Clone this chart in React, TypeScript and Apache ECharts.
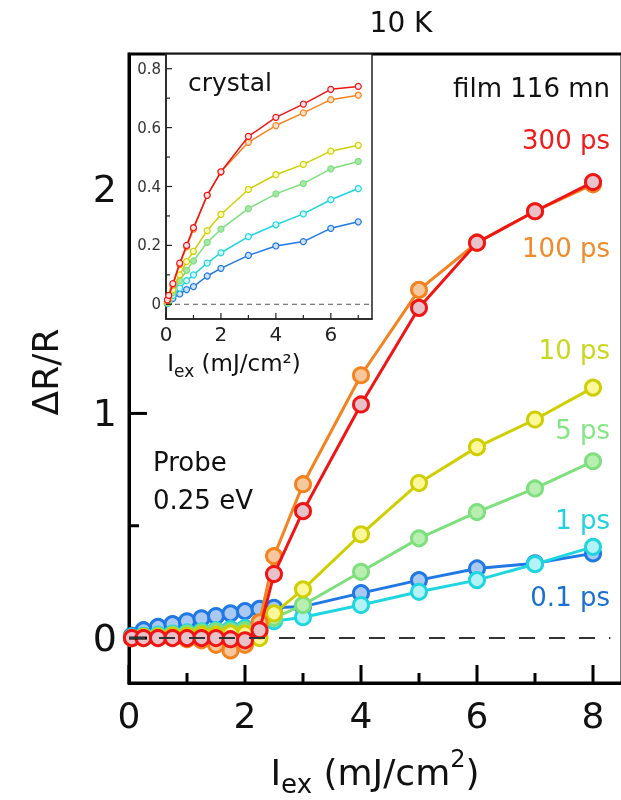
import React, { useEffect, useRef } from "react";
import * as echarts from "echarts";

// ---------- main panel (film 116 nm) ----------
const mainX = [0.05, 0.25, 0.5, 0.75, 1, 1.25, 1.5, 1.75, 2, 2.25, 2.5, 3, 4, 5, 6, 7, 8];
const main01ps = [0.01, 0.035, 0.05, 0.062, 0.075, 0.088, 0.098, 0.11, 0.12, 0.13, 0.135, 0.14, 0.2, 0.258, 0.31, 0.333, 0.377];
const main1ps = [0.005, 0.01, 0.015, 0.02, 0.025, 0.03, 0.035, 0.04, 0.045, 0.05, 0.075, 0.093, 0.147, 0.206, 0.258, 0.329, 0.406];
const main5ps = [0, 0.005, 0.01, 0.015, 0.02, 0.025, 0.03, 0.03, 0.035, 0.03, 0.09, 0.147, 0.295, 0.444, 0.561, 0.666, 0.787];
const main10ps = [0, 0.005, 0.005, 0.01, 0.01, 0.015, 0.015, 0.02, 0.02, 0.0, 0.11, 0.217, 0.462, 0.69, 0.85, 0.973, 1.115];
const main100ps = [0, 0, 0, 0, -0.005, -0.01, -0.03, -0.055, -0.03, 0.07, 0.365, 0.685, 1.17, 1.55, 1.76, 1.9, 2.02];
const main300ps = [0, 0, 0, 0, 0, 0, 0, -0.005, -0.01, 0.035, 0.285, 0.565, 1.04, 1.47, 1.76, 1.9, 2.03];

// ---------- inset (crystal) ----------
const insetX = [0.05, 0.1, 0.25, 0.5, 0.75, 1, 1.5, 2, 3, 4, 5, 6, 7];
const inset01ps = [0.002, 0.007, 0.02, 0.035, 0.05, 0.06, 0.096, 0.122, 0.166, 0.198, 0.213, 0.258, 0.28];
const inset1ps = [0.004, 0.01, 0.03, 0.055, 0.08, 0.1, 0.14, 0.175, 0.23, 0.27, 0.307, 0.355, 0.393];
const inset5ps = [0.005, 0.015, 0.04, 0.08, 0.115, 0.147, 0.21, 0.255, 0.325, 0.375, 0.41, 0.46, 0.485];
const inset10ps = [0.008, 0.02, 0.05, 0.1, 0.145, 0.18, 0.25, 0.305, 0.39, 0.44, 0.475, 0.52, 0.54];
const inset100ps = [0.01, 0.025, 0.065, 0.135, 0.195, 0.255, 0.37, 0.45, 0.55, 0.607, 0.65, 0.695, 0.71];
const inset300ps = [0.015, 0.03, 0.07, 0.14, 0.2, 0.26, 0.37, 0.45, 0.57, 0.635, 0.68, 0.73, 0.74];

// ---------- axes & ticks ----------
const mainXRange = [0, 8.5];
const mainYRange = [-0.2, 2.6];
const insetXRange = [0, 7.5];
const insetYRange = [-0.05, 0.85];
const mainXTicks = [0, 2, 4, 6, 8];
const mainXMinor = [1, 3, 5, 7];
const mainYLabels = [0, 1, 2];
const mainYTickMarks = [0, 1]; // upper ticks are hidden behind the inset
const mainYMinorMarks = [0.5];
const insetXTicks = [0, 2, 4, 6];
const insetXMinor = [1, 3, 5, 7];
const insetYTicks = [0, 0.2, 0.4, 0.6, 0.8];
const insetYMinor = [0.1, 0.3, 0.5, 0.7];
const zeroLineMain = [0, 8.3];
const zeroLineInset = [0, 7.4];

const delayLabels = ["0.1 ps", "1 ps", "5 ps", "10 ps", "100 ps", "300 ps"];

const FONT = '"DejaVu Sans", sans-serif';

const lineColors = ["#1f78e4", "#1fd6e0", "#7ddf7d", "#cfcf00", "#f4821e", "#f01414"];
const fillColors = ["#a9c9f2", "#b4f3f5", "#b8eeb0", "#fbf79a", "#f6c79c", "#e8c2c9"];
const labelColors = ["#1a6fd2", "#22d2dc", "#84e684", "#c9d81e", "#f08a2a", "#ee1c1c"];
const insetFill = ["#cfe0f8", "#d4f8f8", "#a6e6a6", "#fdfbc4", "#fbe0c8", "#fbe0e4"];

const evenOnly = (v: number) => (Math.abs(v % 2) < 1e-9 ? String(v) : "");

// tick marks drawn with a custom series, positioned through the axis scales
const xTicks = (vals: number[], xi: number, yi: number, base: number, len: number, w: number, color: string) => ({
  type: "custom",
  xAxisIndex: xi,
  yAxisIndex: yi,
  silent: true,
  z: 10,
  data: vals.map((v) => [v, base]),
  renderItem: (_p: any, api: any) => {
    const p = api.coord([api.value(0), api.value(1)]);
    return { type: "rect", shape: { x: p[0] - w / 2, y: p[1] - len, width: w, height: len }, style: { fill: color } };
  },
});
const yTicks = (vals: number[], xi: number, yi: number, base: number, len: number, w: number, color: string) => ({
  type: "custom",
  xAxisIndex: xi,
  yAxisIndex: yi,
  silent: true,
  z: 10,
  data: vals.map((v) => [base, v]),
  renderItem: (_p: any, api: any) => {
    const p = api.coord([api.value(0), api.value(1)]);
    return { type: "rect", shape: { x: p[0], y: p[1] - w / 2, width: len, height: w }, style: { fill: color } };
  },
});

export default function App() {
  const ref = useRef<HTMLDivElement>(null);
  useEffect(() => {
    if (!ref.current) return;
    const chart = echarts.init(ref.current, undefined, { renderer: "svg" });

    const mainData = [main01ps, main1ps, main5ps, main10ps, main100ps, main300ps];
    const insetData = [inset01ps, inset1ps, inset5ps, inset10ps, inset100ps, inset300ps];

    const mainSeries = mainData.map((vals, k) => ({
      name: delayLabels[k],
      type: "line",
      xAxisIndex: 0,
      yAxisIndex: 0,
      data: mainX.map((x, i) => [x, vals[i]]),
      symbol: "circle",
      symbolSize: 15,
      lineStyle: { color: lineColors[k], width: 3 },
      itemStyle: { color: fillColors[k], borderColor: lineColors[k], borderWidth: 3 },
      z: 3 + k,
    }));

    const insetSeries = insetData.map((vals, k) => ({
      name: "crystal " + delayLabels[k],
      type: "line",
      xAxisIndex: 1,
      yAxisIndex: 1,
      data: insetX.map((x, i) => [x, vals[i]]),
      symbol: "circle",
      symbolSize: 6,
      lineStyle: { color: lineColors[k], width: 1.5 },
      itemStyle: { color: insetFill[k], borderColor: lineColors[k], borderWidth: 1.2 },
      z: 3 + k,
    }));

    const option = {
      animation: false,
      grid: [
        { left: 129, top: 54, width: 493, height: 629, show: true, borderColor: "#000", borderWidth: 3, outerBoundsMode: "none" },
        { left: 166, top: 54, width: 206, height: 265, show: true, borderColor: "#222", borderWidth: 1.5, backgroundColor: "#ffffff", outerBoundsMode: "none" },
      ],
      xAxis: [
        {
          type: "value", gridIndex: 0, position: "bottom", min: mainXRange[0], max: mainXRange[1], interval: 2,
          splitLine: { show: false },
          axisLine: { show: true, onZero: false, lineStyle: { color: "#000", width: 3 } },
          axisTick: { show: false },
          axisLabel: { formatter: evenOnly, fontSize: 36, fontFamily: FONT, color: "#111", margin: 14, showMaxLabel: false },
        },
        {
          type: "value", gridIndex: 1, position: "bottom", min: insetXRange[0], max: insetXRange[1], interval: 2,
          splitLine: { show: false },
          axisLine: { show: true, onZero: false, lineStyle: { color: "#222", width: 1.5 } },
          axisTick: { show: false },
          axisLabel: { formatter: evenOnly, fontSize: 20, fontFamily: FONT, color: "#222", margin: 5, showMaxLabel: false },
        },
      ],
      yAxis: [
        {
          type: "value", gridIndex: 0, position: "left", min: mainYRange[0], max: mainYRange[1],
          splitLine: { show: false },
          axisLine: { show: true, onZero: false, lineStyle: { color: "#000", width: 3 } },
          axisTick: { show: false },
          axisLabel: { customValues: mainYLabels, fontSize: 38, fontFamily: FONT, color: "#111", margin: 12 },
        },
        {
          type: "value", gridIndex: 1, position: "left", min: insetYRange[0], max: insetYRange[1],
          splitLine: { show: false },
          axisLine: { show: true, onZero: false, lineStyle: { color: "#222", width: 1.5 } },
          axisTick: { show: false },
          axisLabel: { customValues: insetYTicks, fontSize: 15, fontFamily: FONT, color: "#333", margin: 5 },
        },
      ],
      series: [
        ...mainSeries,
        {
          name: "zero",
          type: "line",
          xAxisIndex: 0,
          yAxisIndex: 0,
          data: zeroLineMain.map((x) => [x, 0]),
          symbol: "none",
          lineStyle: { color: "#333", width: 2, type: [16, 14] },
          z: 10,
        },
        xTicks(mainXTicks, 0, 0, mainYRange[0], 18, 3, "#000"),
        xTicks(mainXMinor, 0, 0, mainYRange[0], 10, 3, "#000"),
        yTicks(mainYTickMarks, 0, 0, mainXRange[0], 18, 3, "#000"),
        yTicks(mainYMinorMarks, 0, 0, mainXRange[0], 10, 3, "#000"),
        {
          name: "zero inset",
          type: "line",
          xAxisIndex: 1,
          yAxisIndex: 1,
          data: zeroLineInset.map((x) => [x, 0]),
          symbol: "none",
          lineStyle: { color: "#555", width: 1, type: [5, 4] },
          z: 2,
        },
        ...insetSeries,
        xTicks(insetXTicks, 1, 1, insetYRange[0], 6, 1.2, "#222"),
        xTicks(insetXMinor, 1, 1, insetYRange[0], 4, 1.2, "#222"),
        yTicks(insetYTicks, 1, 1, insetXRange[0], 6, 1.2, "#222"),
        yTicks(insetYMinor, 1, 1, insetXRange[0], 4, 1.2, "#222"),
      ],
      graphic: [
        { type: "text", x: 401, y: 22, style: { text: "10 K", fill: "#111", fontSize: 28, fontFamily: FONT, align: "center", verticalAlign: "middle" } },
        { type: "text", x: 610, y: 88, style: { text: "film 116 mn", fill: "#111", fontSize: 26, fontFamily: FONT, align: "right", verticalAlign: "middle" } },
        { type: "text", x: 610, y: 140, style: { text: delayLabels[5], fill: labelColors[5], fontSize: 26, fontFamily: FONT, align: "right", verticalAlign: "middle" } },
        { type: "text", x: 610, y: 248, style: { text: delayLabels[4], fill: labelColors[4], fontSize: 26, fontFamily: FONT, align: "right", verticalAlign: "middle" } },
        { type: "text", x: 610, y: 350, style: { text: delayLabels[3], fill: labelColors[3], fontSize: 26, fontFamily: FONT, align: "right", verticalAlign: "middle" } },
        { type: "text", x: 610, y: 430, style: { text: delayLabels[2], fill: labelColors[2], fontSize: 26, fontFamily: FONT, align: "right", verticalAlign: "middle" } },
        { type: "text", x: 610, y: 520, style: { text: delayLabels[1], fill: labelColors[1], fontSize: 26, fontFamily: FONT, align: "right", verticalAlign: "middle" } },
        { type: "text", x: 610, y: 597, style: { text: delayLabels[0], fill: labelColors[0], fontSize: 26, fontFamily: FONT, align: "right", verticalAlign: "middle" } },
        { type: "text", x: 153, y: 462, style: { text: "Probe", fill: "#111", fontSize: 26, fontFamily: FONT, align: "left", verticalAlign: "middle" } },
        { type: "text", x: 153, y: 500, style: { text: "0.25 eV", fill: "#111", fontSize: 26, fontFamily: FONT, align: "left", verticalAlign: "middle" } },
        { type: "text", x: 188, y: 82, z: 20, style: { text: "crystal", fill: "#111", fontSize: 25, fontFamily: FONT, align: "left", verticalAlign: "middle" } },
        {
          type: "text",
          x: 45,
          y: 372,
          rotation: Math.PI / 2,
          style: { text: "ΔR/R", fill: "#111", fontSize: 36, fontFamily: FONT, align: "center", verticalAlign: "middle" },
        },
        {
          type: "text",
          x: 375,
          y: 772,
          style: {
            text: "{a|I}{b|ex}{a| (mJ/cm}{c|2}{a|)}",
            align: "center",
            verticalAlign: "middle",
            fill: "#111",
            rich: {
              a: { fontSize: 36, fontFamily: FONT, fill: "#111", lineHeight: 50, verticalAlign: "middle" },
              b: { fontSize: 26, fontFamily: FONT, fill: "#111", lineHeight: 26, verticalAlign: "bottom" },
              c: { fontSize: 24, fontFamily: FONT, fill: "#111", lineHeight: 24, verticalAlign: "top" },
            },
          },
        },
        {
          type: "text",
          x: 234,
          y: 363,
          style: {
            text: "{a|I}{b|ex}{a| (mJ/cm²)}",
            align: "center",
            verticalAlign: "middle",
            fill: "#111",
            rich: {
              a: { fontSize: 23, fontFamily: FONT, fill: "#111", lineHeight: 32, verticalAlign: "middle" },
              b: { fontSize: 17, fontFamily: FONT, fill: "#111", lineHeight: 17, verticalAlign: "bottom" },
            },
          },
        },
      ],
    };

    chart.setOption(option as any);
    return () => chart.dispose();
  }, []);

  return <div ref={ref} style={{ position: "fixed", left: 0, top: 0, width: 621, height: 800 }} />;
}
